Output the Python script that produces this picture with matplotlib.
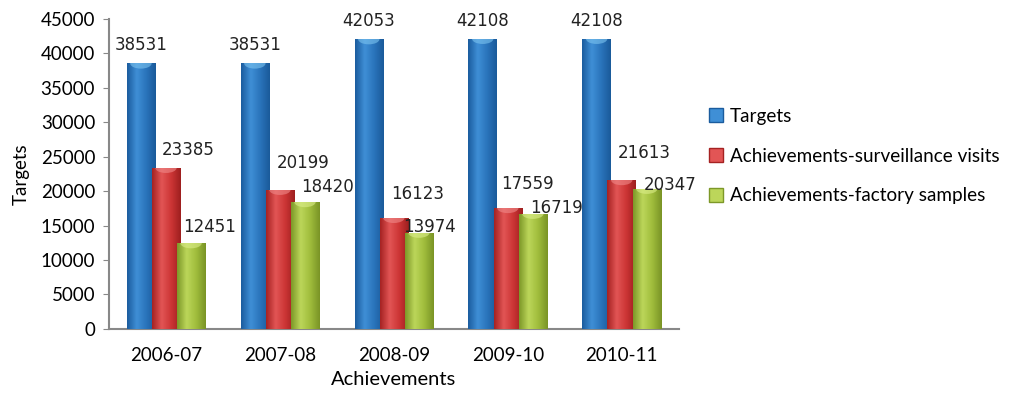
import matplotlib.pyplot as plt
import numpy as np
from matplotlib.colors import LinearSegmentedColormap
from matplotlib.patches import Patch, Ellipse

years = ['2006-07', '2007-08', '2008-09', '2009-10', '2010-11']
targets = [38531, 38531, 42053, 42108, 42108]
surveillance = [23385, 20199, 16123, 17559, 21613]
factory = [12451, 18420, 13974, 16719, 20347]

# label nudges (pixels right, pixels up) as placed in the original chart
targets_nudge = [(0, 18)] * 5
surveillance_nudge = [(22, 18), (23, 27), (24, 24), (20, 24), (23, 27)]
factory_nudge = [(19, 16), (23, 15), (11, 6), (24, 6), (23, 4)]

series = [
    ('Targets', targets, targets_nudge,
     ['#1b5c9e', '#3f8fd6', '#2a74bb', '#1a5a9a'], '#7cc4f0'),
    ('Achievements-surveillance visits', surveillance, surveillance_nudge,
     ['#a52222', '#e25555', '#cc3535', '#9e1f1f'], '#f08a8a'),
    ('Achievements-factory samples', factory, factory_nudge,
     ['#7d9828', '#bcd65a', '#a0bd3c', '#7a9426'], '#dcee8a'),
]

fig = plt.figure(figsize=(10.16, 3.93), dpi=100)
ax = fig.add_axes([0.1073, 0.163, 0.5607, 0.789])

x = np.arange(len(years))
offsets = [-0.22, 0.0, 0.22]
width = 0.25
grad = np.linspace(0, 1, 64).reshape(1, -1)
px = 0.72  # points per pixel at dpi 100

handles = []
for (name, vals, nudges, cols, cap), off in zip(series, offsets):
    cmap = LinearSegmentedColormap.from_list(name, cols)
    bars = ax.bar(x + off, vals, width, color=cols[2], zorder=2)
    for b, v, (dx, dy) in zip(bars, vals, nudges):
        x0 = b.get_x()
        im = ax.imshow(grad, cmap=cmap, aspect='auto', zorder=3,
                       extent=[x0, x0 + width, 0, v], interpolation='bicubic')
        im.set_clip_path(b)
        # light cap at the top of the cylinder
        e = Ellipse((x0 + width / 2, v), width * 0.75, 1500,
                    facecolor=cap, edgecolor='none', alpha=0.6, zorder=4)
        ax.add_patch(e)
        e.set_clip_path(b)
        ax.annotate(str(v), (x0 + width / 2, v), xytext=(dx * px, dy * px),
                    textcoords='offset points', ha='center', va='center',
                    fontsize=12, family='DejaVu Sans', color='#222222', zorder=5)
    handles.append(Patch(facecolor=cols[1], edgecolor=cols[0], label=name))

ax.set_xlim(-0.5, 4.5)
ax.set_ylim(0, 45000)
ax.set_yticks(np.arange(0, 45001, 5000))
ax.set_xticks(x)
ax.set_xticklabels(years)
ax.tick_params(axis='x', length=0, pad=13, labelsize=13.5)
ax.tick_params(axis='y', length=4, color='#888888', labelsize=13.5, pad=6)
for lab in ax.get_xticklabels() + ax.get_yticklabels():
    lab.set_family('Lato')
for s in ['top', 'right']:
    ax.spines[s].set_visible(False)
for s in ['left', 'bottom']:
    ax.spines[s].set_color('#888888')
    ax.spines[s].set_linewidth(1.5)

ax.set_ylabel('Targets', family='Lato', fontsize=13.5, labelpad=8)
ax.set_xlabel('Achievements', family='Lato', fontsize=14.5, labelpad=5)

fig.legend(handles=handles, loc='center left', bbox_to_anchor=(0.681, 0.603),
           frameon=False, prop={'family': 'Lato', 'size': 13.6},
           handlelength=0.75, handleheight=0.75, handletextpad=0.35, labelspacing=1.2)

fig.savefig('out.png', dpi=100)
